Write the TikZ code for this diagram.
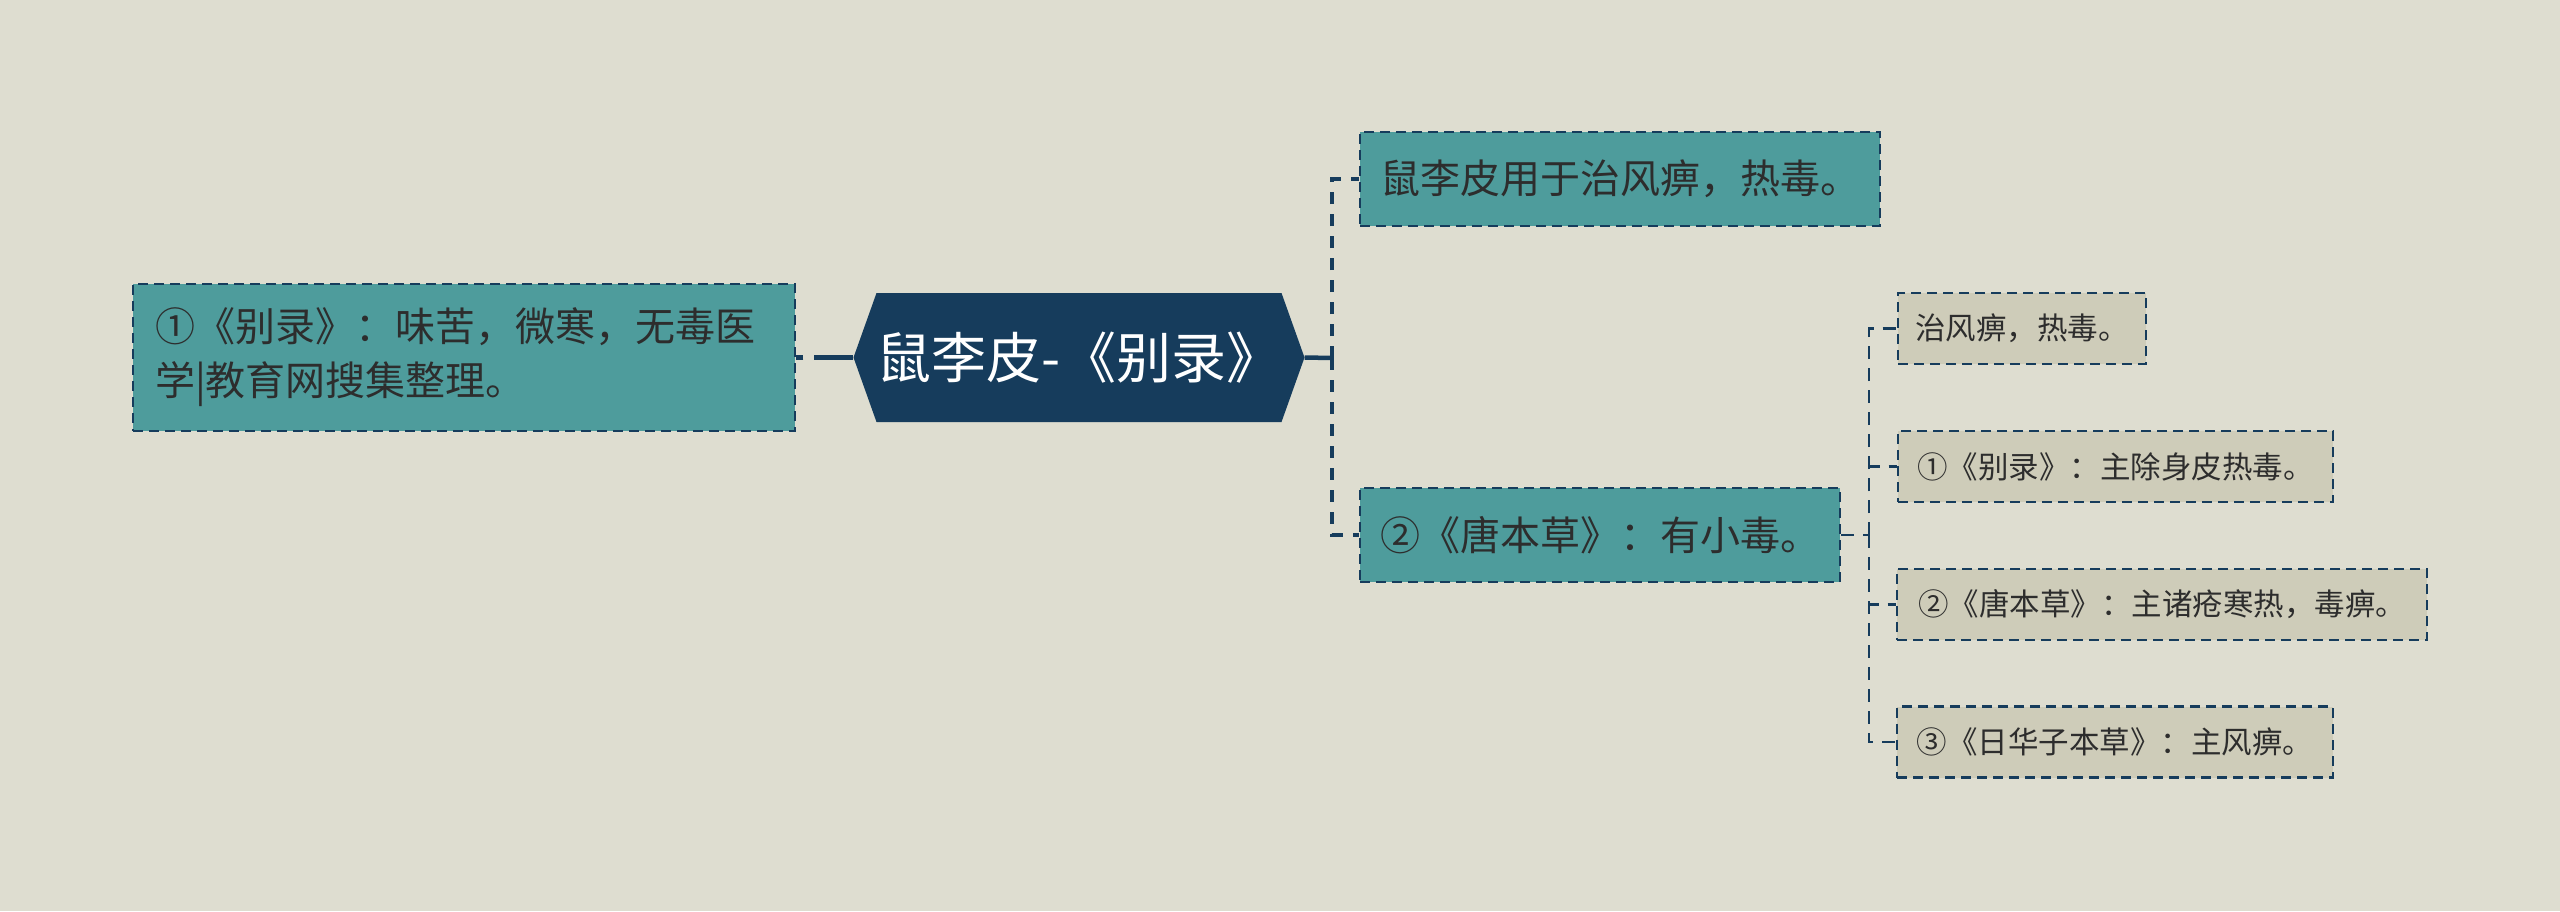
\documentclass[tikz,border=0pt]{standalone}
\usepackage{fontspec}
\setmainfont{Noto Sans CJK SC}
\usetikzlibrary{calc}
\definecolor{bg}{RGB}{222,221,208}
\definecolor{tealfill}{RGB}{78,156,156}
\definecolor{navy}{RGB}{22,60,92}
\definecolor{sand}{RGB}{206,204,185}
\definecolor{ink}{RGB}{45,45,45}
\tikzset{
  boxbase/.style={draw=navy, line width=2.5pt, dash pattern=on 10pt off 6pt, inner sep=0pt, text=ink, anchor=center},
  tealbox/.style={boxbase, fill=tealfill, font=\fontsize{40}{54}\selectfont, minimum height=94pt},
  sandbox/.style={boxbase, fill=sand, font=\fontsize{30.5}{36}\selectfont, minimum height=71pt},
  hexnode/.style={fill=bg, inner sep=0pt, text=white, font=\fontsize{55}{64}\selectfont,
    minimum width=451pt, minimum height=129pt,
    path picture={\fill[navy] (path picture bounding box.west)
      -- ([xshift=23pt]path picture bounding box.north west)
      -- ([xshift=-23pt]path picture bounding box.north east)
      -- (path picture bounding box.east)
      -- ([xshift=-23pt]path picture bounding box.south east)
      -- ([xshift=23pt]path picture bounding box.south west) -- cycle;}},
  solidlink/.style={navy, line width=4.5pt},
  mainlink/.style={navy, line width=4.5pt, dash pattern=on 12pt off 10pt},
  sublink/.style={navy, line width=2.5pt, dash pattern=on 13pt off 9pt},
}
\begin{document}
\begin{tikzpicture}[x=1pt,y=-1pt]
\fill[bg] (0,0) rectangle (2560,911);
\useasboundingbox (0,0) rectangle (2560,911);

% nodes
\node[tealbox, minimum width=662pt, minimum height=147pt, text width=618pt, align=left] (left) at (464,357.5)
  {①《别录》：味苦，微寒，无毒医\\学|教育网搜集整理。};
\node[hexnode] (main) at (1079,357.5) {鼠李皮-《别录》};
\node[tealbox, minimum width=520pt] (top) at (1620,179) {鼠李皮用于治风痹，热毒。};
\node[tealbox, minimum width=480pt] (mid) at (1600,535) {②《唐本草》：有小毒。};
\node[sandbox, minimum width=248pt] (s1) at (2022,328.5) {治风痹，热毒。};
\node[sandbox, minimum width=435pt] (s2) at (2115.5,466.5) {①《别录》：主除身皮热毒。};
\node[sandbox, minimum width=530pt] (s3) at (2162,604.5) {②《唐本草》：主诸疮寒热，毒痹。};
\node[sandbox, minimum width=436pt] (s4) at (2115,742) {③《日华子本草》：主风痹。};

% junctions
\coordinate (jr) at (1332,358);
\coordinate (js) at (1869,535);

% connectors
\draw[navy, line width=4.5pt, dash pattern=on 39pt off 11pt on 10pt off 20pt] (main.west) -- (left.east);
\draw[solidlink] (main.east) -- (jr);
\draw[mainlink] (jr) |- (top.west);
\draw[mainlink] (jr) |- (mid.west);
\draw[sublink] (mid.east) -- (js);
\draw[sublink] (js) |- (s1.west);
\draw[sublink] (js) |- (s2.west);
\draw[sublink] (js) |- (s3.west);
\draw[sublink] (js) |- (s4.west);
\end{tikzpicture}
\end{document}
